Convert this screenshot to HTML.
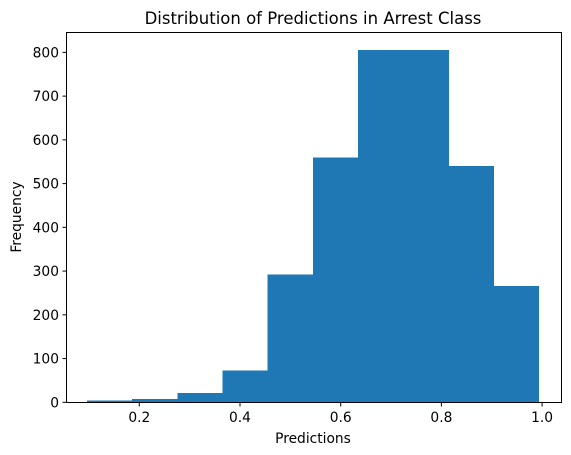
<!DOCTYPE html>
<html><head><meta charset="utf-8"><style>
body{margin:0;background:#fff}
svg{display:block;font-family:"DejaVu Sans","Liberation Sans",sans-serif}
</style></head><body>
<svg id="chart" width="571" height="455">
<text x="313" y="24" font-size="16.5" text-anchor="middle">Distribution of Predictions in Arrest Class</text>
<g id="bars" shape-rendering="crispEdges"></g>
<g id="xt"></g>
<g id="yt"></g>
<rect x="66.5" y="32.5" width="495" height="370" fill="none" stroke="#000" stroke-width="1"/>
<text x="313" y="443" font-size="13.8" text-anchor="middle">Predictions</text>
<text transform="translate(21,217) rotate(-90)" font-size="13.8" text-anchor="middle">Frequency</text>
</svg>
<script>
const binEdges=[0.096,0.1857,0.2754,0.3651,0.4548,0.5445,0.6342,0.7239,0.8136,0.9033,0.993];
const counts=[4,7,21,73,292,560,805,805,540,266];
const xTicks=[0.2,0.4,0.6,0.8,1.0];
const xTickLabels=["0.2","0.4","0.6","0.8","1.0"];
const yTicks=[0,100,200,300,400,500,600,700,800];
const ns="http://www.w3.org/2000/svg";
function X(v){return 139.3+(v-0.2)*503.5;}
function Y(v){return 402.3-v*0.4374;}
const bars=document.getElementById('bars');
counts.forEach((c,i)=>{
 const r=document.createElementNS(ns,'rect');
 const x0=X(binEdges[i]),x1=X(binEdges[i+1]);
 r.setAttribute('x',x0);r.setAttribute('width',x1-x0+0.6);
 r.setAttribute('y',Y(c));r.setAttribute('height',Y(0)-Y(c));
 r.setAttribute('fill','#1f77b4');
 
 
 bars.appendChild(r);
});
const xt=document.getElementById('xt');
xTicks.forEach((t,i)=>{
 const l=document.createElementNS(ns,'line');
 l.setAttribute('x1',X(t));l.setAttribute('x2',X(t));l.setAttribute('y1',402.5);l.setAttribute('y2',406.5);l.setAttribute('stroke','#000');
 
 
 xt.appendChild(l);
 const tx=document.createElementNS(ns,'text');
 tx.setAttribute('x',X(t));tx.setAttribute('y',422);tx.setAttribute('font-size','13.8');tx.setAttribute('text-anchor','middle');
 tx.textContent=xTickLabels[i];
 
 
 xt.appendChild(tx);
});
const yt=document.getElementById('yt');
yTicks.forEach(t=>{
 const l=document.createElementNS(ns,'line');
 l.setAttribute('x1',62.5);l.setAttribute('x2',66.5);l.setAttribute('y1',Y(t));l.setAttribute('y2',Y(t));l.setAttribute('stroke','#000');
 
 
 yt.appendChild(l);
 const tx=document.createElementNS(ns,'text');
 tx.setAttribute('x',59);tx.setAttribute('y',Y(t)+5);tx.setAttribute('font-size','13.8');tx.setAttribute('text-anchor','end');
 tx.textContent=String(t);
 
 
 yt.appendChild(tx);
});
</script>
</body></html>
